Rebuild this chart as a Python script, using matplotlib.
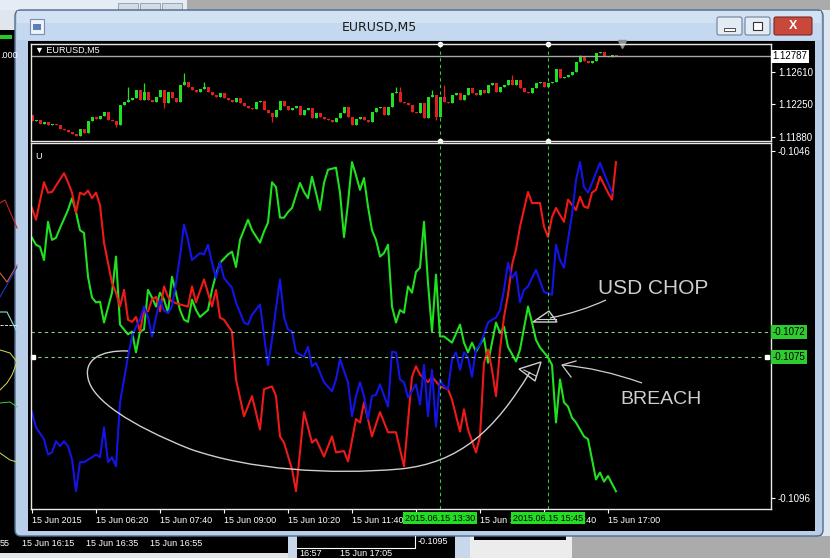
import numpy as np
import matplotlib.pyplot as plt
from matplotlib.patches import Rectangle, FancyBboxPatch, PathPatch, Polygon
from matplotlib.path import Path

plt.rcParams["font.family"] = ["Liberation Sans", "DejaVu Sans"]
plt.rcParams["axes.unicode_minus"] = False

# ---------------- data ----------------
# EURUSD M5, bar 0 = 15 Jun 2015 05:00
tick_bars = [0, 16, 32, 48, 64, 80, 96, 112, 128, 144]
tick_labels = ["15 Jun 2015", "15 Jun 06:20", "15 Jun 07:40", "15 Jun 09:00",
               "15 Jun 10:20", "15 Jun 11:40", "15 Jun 13:00", "15 Jun 14:20",
               "15 Jun 15:40", "15 Jun 17:00"]

first_open = 1.12127
closes = [
    1.12060, 1.12071, 1.12026, 1.12049, 1.12015, 1.12026, 1.12015, 1.11970, 1.11959, 1.11936,
    1.11914, 1.11891, 1.11970, 1.11925, 1.12060, 1.12105, 1.12082, 1.12116, 1.12161, 1.12071,
    1.12060, 1.12015, 1.12239, 1.12273, 1.12296, 1.12318, 1.12408, 1.12296, 1.12385, 1.12296,
    1.12273, 1.12329, 1.12408, 1.12262, 1.12385, 1.12318, 1.12273, 1.12464, 1.12498, 1.12442,
    1.12408, 1.12385, 1.12419, 1.12442, 1.12385, 1.12352, 1.12329, 1.12374, 1.12318, 1.12296,
    1.12273, 1.12318, 1.12262, 1.12228, 1.12206, 1.12194, 1.12273, 1.12284, 1.12183, 1.12150,
    1.12105, 1.12183, 1.12284, 1.12228, 1.12183, 1.12206, 1.12228, 1.12127, 1.12183, 1.12206,
    1.12093, 1.12150, 1.12105, 1.12082, 1.12071, 1.12049, 1.12093, 1.12150, 1.12217, 1.12105,
    1.12015, 1.12082, 1.12105, 1.12071, 1.12049, 1.12161, 1.12206, 1.12217, 1.12127, 1.12217,
    1.12374, 1.12385, 1.12273, 1.12262, 1.12239, 1.12161, 1.12150, 1.12262, 1.12093, 1.12329,
    1.12352, 1.12105, 1.12329, 1.12273, 1.12262, 1.12352, 1.12374, 1.12296, 1.12352, 1.12430,
    1.12374, 1.12352, 1.12408, 1.12374, 1.12464, 1.12486, 1.12385, 1.12442, 1.12464, 1.12520,
    1.12464, 1.12520, 1.12430, 1.12385, 1.12374, 1.12430, 1.12486, 1.12498, 1.12442, 1.12486,
    1.12498, 1.12644, 1.12543, 1.12554, 1.12576, 1.12610, 1.12722, 1.12778, 1.12734, 1.12711,
    1.12734, 1.12823, 1.12835, 1.12790, 1.12778, 1.12801, 1.12787,
]
upper_wicks = [(24, 1.12442), (28, 1.12486), (38, 1.12599), (43, 1.12498), (91, 1.12442),
               (92, 1.12442), (100, 1.12408), (103, 1.12464), (120, 1.12576), (137, 1.12801)]
lower_wicks = [(21, 1.11992), (33, 1.12206), (60, 1.12049), (101, 1.12071)]
bid = 1.12787
price_ticks = [1.12610, 1.12250, 1.11880]

# indicator "U" (bar, value)
red_line = [
    (0, -0.10542), (1, -0.10559), (3, -0.10505), (4, -0.10520), (5, -0.10519), (8, -0.10492),
    (9, -0.10505), (10, -0.10520), (11, -0.10549), (12, -0.10520), (13, -0.10523), (14, -0.10517),
    (15, -0.10528), (16, -0.10520), (17, -0.10538), (18, -0.10592), (20, -0.10650), (21, -0.10664),
    (22, -0.10684), (23, -0.10660), (24, -0.10703), (25, -0.10706), (26, -0.10699), (27, -0.10720),
    (28, -0.10689), (29, -0.10691), (30, -0.10674), (31, -0.10670), (32, -0.10691), (33, -0.10655),
    (34, -0.10670), (35, -0.10677), (37, -0.10681), (39, -0.10684), (40, -0.10655), (41, -0.10678),
    (43, -0.10645), (45, -0.10684), (46, -0.10660), (47, -0.10700), (48, -0.10703), (50, -0.10720),
    (51, -0.10789), (53, -0.10842), (55, -0.10813), (57, -0.10861), (58, -0.10803), (60, -0.10799),
    (61, -0.10813), (62, -0.10871), (63, -0.10880), (65, -0.10918), (66, -0.10950), (68, -0.10836),
    (70, -0.10880), (71, -0.10875), (73, -0.10900), (75, -0.10871), (76, -0.10894), (78, -0.10892),
    (79, -0.10907), (81, -0.10846), (82, -0.10851), (83, -0.10822), (85, -0.10871), (87, -0.10836),
    (89, -0.10865), (91, -0.10865), (93, -0.10914), (95, -0.10785), (96, -0.10770), (97, -0.10782),
    (99, -0.10793), (100, -0.10785), (102, -0.10799), (104, -0.10803), (105, -0.10818), (107, -0.10864),
    (108, -0.10832), (109, -0.10861), (111, -0.10894), (112, -0.10871), (113, -0.10765), (114, -0.10746),
    (115, -0.10775), (116, -0.10813), (117, -0.10746), (118, -0.10699), (119, -0.10667), (120, -0.10624),
    (121, -0.10602), (122, -0.10569), (124, -0.10519), (125, -0.10535), (127, -0.10535), (128, -0.10569),
    (129, -0.10584), (130, -0.10555), (131, -0.10542), (133, -0.10562), (134, -0.10530), (136, -0.10545),
    (137, -0.10526), (138, -0.10540), (139, -0.10542), (140, -0.10520), (141, -0.10516), (142, -0.10497),
    (144, -0.10520), (145, -0.10530), (146, -0.10476),
]
green_line = [
    (0, -0.10585), (1, -0.10595), (2, -0.10598), (3, -0.10617), (4, -0.10562), (5, -0.10588),
    (6, -0.10585), (7, -0.10571), (9, -0.10545), (10, -0.10528), (11, -0.10548), (12, -0.10574),
    (13, -0.10578), (14, -0.10641), (15, -0.10671), (16, -0.10678), (17, -0.10677), (18, -0.10707),
    (20, -0.10664), (21, -0.10612), (22, -0.10710), (24, -0.10724), (25, -0.10720), (26, -0.10750),
    (27, -0.10720), (28, -0.10717), (29, -0.10660), (30, -0.10671), (31, -0.10684), (32, -0.10664),
    (33, -0.10674), (34, -0.10693), (35, -0.10641), (37, -0.10689), (38, -0.10703), (39, -0.10706),
    (40, -0.10674), (41, -0.10689), (42, -0.10699), (44, -0.10689), (45, -0.10660), (46, -0.10638),
    (47, -0.10621), (49, -0.10609), (50, -0.10605), (51, -0.10627), (52, -0.10588), (54, -0.10559),
    (55, -0.10574), (57, -0.10592), (58, -0.10576), (59, -0.10563), (60, -0.10505), (61, -0.10512),
    (62, -0.10556), (63, -0.10556), (64, -0.10548), (65, -0.10542), (67, -0.10506), (68, -0.10519),
    (69, -0.10528), (70, -0.10497), (71, -0.10520), (72, -0.10545), (73, -0.10506), (74, -0.10487),
    (76, -0.10484), (77, -0.10520), (78, -0.10584), (79, -0.10535), (80, -0.10476), (81, -0.10495),
    (82, -0.10516), (83, -0.10499), (84, -0.10540), (85, -0.10574), (86, -0.10588), (87, -0.10612),
    (88, -0.10607), (89, -0.10595), (90, -0.10684), (91, -0.10707), (92, -0.10689), (93, -0.10693),
    (94, -0.10655), (95, -0.10664), (96, -0.10634), (97, -0.10628), (98, -0.10562), (99, -0.10650),
    (100, -0.10720), (101, -0.10638), (102, -0.10727), (103, -0.10727), (105, -0.10736), (107, -0.10710),
    (108, -0.10736), (109, -0.10750), (110, -0.10736), (111, -0.10749), (113, -0.10729), (114, -0.10765),
    (116, -0.10707), (117, -0.10722), (118, -0.10713), (119, -0.10742), (121, -0.10763), (122, -0.10746),
    (124, -0.10684), (125, -0.10707), (126, -0.10732), (127, -0.10743), (129, -0.10757), (130, -0.10768),
    (131, -0.10851), (132, -0.10789), (133, -0.10822), (134, -0.10828), (135, -0.10844), (136, -0.10851),
    (138, -0.10871), (139, -0.10875), (141, -0.10933), (142, -0.10923), (143, -0.10936), (144, -0.10928),
    (146, -0.10950),
]
blue_line = [
    (0, -0.10836), (1, -0.10858), (3, -0.10875), (4, -0.10897), (5, -0.10894), (6, -0.10878),
    (7, -0.10885), (8, -0.10878), (9, -0.10885), (10, -0.10904), (11, -0.10950), (12, -0.10908),
    (13, -0.10908), (15, -0.10901), (16, -0.10897), (17, -0.10901), (18, -0.10858), (19, -0.10908),
    (20, -0.10901), (21, -0.10914), (22, -0.10822), (23, -0.10789), (24, -0.10756), (25, -0.10727),
    (26, -0.10713), (27, -0.10703), (28, -0.10684), (29, -0.10699), (30, -0.10727), (31, -0.10699),
    (32, -0.10674), (33, -0.10690), (34, -0.10693), (35, -0.10684), (36, -0.10650), (37, -0.10612),
    (38, -0.10566), (39, -0.10588), (40, -0.10617), (42, -0.10607), (43, -0.10609), (44, -0.10595),
    (45, -0.10621), (46, -0.10643), (47, -0.10620), (48, -0.10643), (50, -0.10657), (51, -0.10678),
    (53, -0.10707), (54, -0.10710), (55, -0.10696), (57, -0.10681), (58, -0.10724), (59, -0.10768),
    (60, -0.10732), (61, -0.10686), (62, -0.10645), (63, -0.10699), (64, -0.10717), (65, -0.10720),
    (66, -0.10750), (68, -0.10756), (69, -0.10742), (70, -0.10770), (71, -0.10765), (73, -0.10793),
    (75, -0.10806), (76, -0.10789), (77, -0.10760), (79, -0.10793), (80, -0.10842), (81, -0.10813),
    (82, -0.10793), (83, -0.10813), (84, -0.10846), (85, -0.10813), (86, -0.10811), (87, -0.10796),
    (89, -0.10828), (90, -0.10749), (91, -0.10750), (92, -0.10789), (93, -0.10793), (94, -0.10815),
    (96, -0.10796), (97, -0.10825), (98, -0.10768), (99, -0.10842), (100, -0.10775), (101, -0.10857),
    (102, -0.10789), (103, -0.10799), (104, -0.10803), (105, -0.10760), (106, -0.10750), (107, -0.10775),
    (108, -0.10750), (109, -0.10757), (110, -0.10785), (111, -0.10746), (112, -0.10739), (113, -0.10724),
    (114, -0.10707), (115, -0.10703), (116, -0.10700), (117, -0.10689), (118, -0.10660), (119, -0.10621),
    (120, -0.10643), (121, -0.10634), (122, -0.10678), (123, -0.10660), (124, -0.10655), (126, -0.10631),
    (128, -0.10663), (130, -0.10667), (131, -0.10595), (132, -0.10617), (133, -0.10628), (134, -0.10588),
    (135, -0.10552), (136, -0.10502), (137, -0.10476), (138, -0.10512), (139, -0.10520), (140, -0.10506),
    (142, -0.10477), (143, -0.10492), (144, -0.10506), (145, -0.10520),
]
ind_ticks = [-0.1046, -0.1096]
levels = [-0.10720, -0.10757]
level_labels = ["-0.1072", "-0.1075"]
vline_bars = [102, 129]
vline_labels = ["2015.06.15 13:30", "2015.06.15 15:45"]

# ---------------- layout helpers (pixels) ----------------
W, H = 830, 558


def frac(x0, y0, x1, y1):
    return [x0 / W, 1 - y1 / H, (x1 - x0) / W, (y1 - y0) / H]


fig = plt.figure(figsize=(W / 100, H / 100), dpi=100, facecolor="#ababab")

# desktop / window chrome
bg = fig.add_axes([0, 0, 1, 1], zorder=0)
bg.set_xlim(0, W)
bg.set_ylim(H, 0)
bg.axis("off")
bg.add_patch(Rectangle((0, 0), 187, 10, fc="#e6ecf3", ec="none"))
for bx in (118, 140, 162):
    bg.add_patch(Rectangle((bx, 3), 20, 8, fc="#d3dbe5", ec="#8a9bb0", lw=0.6))
bg.add_patch(Rectangle((0, 10), 16, 22, fc="#dfe6ee", ec="none"))
bg.add_patch(Rectangle((0, 30), 18, 506, fc="black", ec="none"))
bg.add_patch(Rectangle((0, 35), 12, 4, fc="#22cc22", ec="none"))
bg.text(18, 56, ".000", color="white", fontsize=6.5, ha="right", va="center")
bg.plot([0, 5, 17], [203, 200, 228], color="#cc2222", lw=0.8)
bg.plot([0, 7, 17], [273, 282, 265], color="#cc6633", lw=0.8)
bg.plot([0, 17], [297, 267], color="#2233cc", lw=0.8)
bg.plot([0, 7, 17], [312, 312, 332], color="#88dddd", lw=0.8)
bg.plot([0, 17], [325, 325], color="white", ls="--", lw=0.6)
bg.plot([0, 10, 17, 12, 7, 0], [350, 353, 362, 375, 383, 390], color="#dddd55", lw=0.7)
bg.plot([0, 10, 17], [403, 402, 407], color="#44cc44", lw=0.7)
bg.plot([0, 10, 17], [453, 460, 462], color="#dddd55", lw=0.7)
bg.add_patch(Rectangle((822, 10), 8, 526, fc="#dfe7f0", ec="none"))

# bottom strip of the windows behind
bg.add_patch(Rectangle((0, 536), 290, 17, fc="black", ec="none"))
bg.add_patch(Rectangle((0, 553), 297, 5, fc="#dfe6ee", ec="none"))
bg.add_patch(Rectangle((288, 536), 9, 22, fc="#c8d8ea", ec="none"))
bg.add_patch(Rectangle((297, 536), 158, 22, fc="black", ec="none"))
bg.plot([297, 415, 415], [548, 548, 536], color="white", lw=0.8)
bg.add_patch(Rectangle((455, 536), 15, 22, fc="#c8d8ea", ec="none"))
bg.add_patch(Rectangle((470, 536), 102, 22, fc="#ececec", ec="none"))
bg.add_patch(Rectangle((474, 536), 92, 4, fc="black", ec="none"))
for tx, s in [(0, "55"), (22, "15 Jun 16:15"), (86, "15 Jun 16:35"), (150, "15 Jun 16:55")]:
    bg.text(tx, 543, s, color="white", fontsize=6.5, va="center")
bg.text(418, 541, "-0.1095", color="white", fontsize=6.5, va="center")
bg.text(299, 553, "16:57", color="white", fontsize=6.5, va="center")
bg.text(340, 553, "15 Jun 17:05", color="white", fontsize=6.5, va="center")

# main window frame
bg.add_patch(FancyBboxPatch((15, 10), 808, 526, boxstyle="round,pad=0,rounding_size=6",
                            fc="#b9cfe9", ec="#4f6b8c", lw=1))
bg.add_patch(Rectangle((17, 11), 804, 12, fc="#d3e2f3", ec="none"))
bg.add_patch(Rectangle((17, 23), 804, 17, fc="#c4d8ef", ec="none"))
bg.add_patch(Rectangle((30, 19), 14, 15, fc="#eef3f9", ec="#7a8fb0", lw=0.8))
bg.add_patch(Rectangle((33, 24), 8, 6, fc="#5b7fb8", ec="none"))
bg.text(379, 27, "EURUSD,M5", fontsize=9, color="#1a1a1a", ha="center", va="center",
        family="DejaVu Sans")
bg.add_patch(FancyBboxPatch((717, 17), 25, 18, boxstyle="round,pad=0,rounding_size=2",
                            fc="#e3ebf5", ec="#6e819a", lw=0.8))
bg.add_patch(Rectangle((724, 28), 11, 3, fc="white", ec="#333333", lw=0.6))
bg.add_patch(FancyBboxPatch((745, 17), 25, 18, boxstyle="round,pad=0,rounding_size=2",
                            fc="#e3ebf5", ec="#6e819a", lw=0.8))
bg.add_patch(Rectangle((753, 22), 9, 8, fc="white", ec="#333333", lw=0.8))
bg.add_patch(FancyBboxPatch((774, 17), 38, 18, boxstyle="round,pad=0,rounding_size=2",
                            fc="#c8483c", ec="#7a2a22", lw=0.8))
bg.text(793, 26, "X", fontsize=9, color="white", fontweight="bold", ha="center", va="center")
bg.add_patch(Rectangle((28, 41), 787, 490, fc="black", ec="none"))

# ---------------- price panel ----------------
ax1 = fig.add_axes(frac(31, 44, 771, 141), zorder=2, facecolor="black")
ax2 = fig.add_axes(frac(31, 143, 771, 509), zorder=2, facecolor="black")
for ax in (ax1, ax2):
    ax.set_xlim(-0.25, 184.75)
    for sp in ax.spines.values():
        sp.set_color("#e8e8e8")
        sp.set_linewidth(1)
    ax.yaxis.tick_right()
    ax.tick_params(axis="y", colors="white", length=3, width=0.8, pad=2, labelsize=7)

bull, bear = "#22e022", "#e02020"
c = np.array(closes)
o = np.r_[first_open, c[:-1]]
bars = np.arange(len(c))
hi = np.maximum(o, c)
lo = np.minimum(o, c)
for b, v in upper_wicks:
    hi[b] = v
for b, v in lower_wicks:
    lo[b] = v
cols = np.where(c >= o, bull, bear)
ax1.vlines(bars, lo, hi, colors=cols, lw=0.9)
ax1.bar(bars, np.maximum(np.abs(c - o), 0.00004), bottom=np.minimum(o, c),
        width=0.75, color=cols, linewidth=0, antialiased=False)
ax1.axhline(bid, color="#a8a8a8", lw=1)
ax1.set_ylim(1.11835, 1.12924)
ax1.set_xticks([])
ax1.set_yticks(price_ticks)
ax1.set_yticklabels([f"{v:.5f}" for v in price_ticks])
ax1.text(1.002, bid, f"{bid:.5f}", transform=ax1.get_yaxis_transform(), fontsize=7,
         color="black", va="center", ha="left", clip_on=False,
         bbox=dict(boxstyle="square,pad=0.15", fc="white", ec="none"))
ax1.text(0.005, 0.94, "\u25bc EURUSD,M5", transform=ax1.transAxes, color="white",
         fontsize=6.5, va="center", ha="left")
ax1.plot([0.7986], [1.0], marker="v", color="#909090", ms=6, transform=ax1.transAxes,
         clip_on=False)

# ---------------- indicator panel ----------------
for line, col in ((green_line, "#20e020"), (red_line, "#ee1a1a"), (blue_line, "#1414e6")):
    xb, yv = zip(*line)
    ax2.plot(xb, yv, color=col, lw=1.5, solid_joinstyle="round")

ax2.set_ylim(-0.109755, -0.104485)
ax2.set_yticks(ind_ticks)
ax2.set_yticklabels([f"{v:.4f}" for v in ind_ticks])
ax2.set_xticks(tick_bars)
ax2.set_xticklabels(tick_labels, ha="left")
ax2.tick_params(axis="x", colors="white", length=3, width=0.8, pad=2, labelsize=6.5)
ax2.text(0.006, 0.975, "U", transform=ax2.transAxes, color="white", fontsize=6.5,
         va="top", ha="left")

for lev, lab in zip(levels, level_labels):
    ax2.axhline(lev, color="#7fcf7f", lw=0.8, ls=(0, (3, 3)))
    ax2.text(1.002, lev, lab, transform=ax2.get_yaxis_transform(), fontsize=7,
             color="black", va="center", ha="left", clip_on=False,
             bbox=dict(boxstyle="square,pad=0.2", fc="#2ecc2e", ec="none"))
ax2.plot([0.003, 0.995], [levels[1]] * 2, ls="none", marker="s", ms=2.5, color="white",
         transform=ax2.get_yaxis_transform(), clip_on=False)

for b, lab in zip(vline_bars, vline_labels):
    for ax in (ax1, ax2):
        ax.axvline(b, color="#33cc33", lw=0.8, ls=(0, (3, 3)))
    ax1.plot([b, b], [0.0, 1.0], ls="none", marker="o", ms=3, color="white",
             transform=ax1.get_xaxis_transform(), clip_on=False)
    ax2.text(b, -0.025, lab, transform=ax2.get_xaxis_transform(), ha="center", va="center",
             fontsize=6.5, color="black", zorder=10, clip_on=False,
             bbox=dict(boxstyle="square,pad=0.2", fc="#22dd22", ec="none"))

# ---------------- hand-drawn notes ----------------
ov = fig.add_axes([0, 0, 1, 1], zorder=5)
ov.set_xlim(0, W)
ov.set_ylim(H, 0)
ov.axis("off")
ov.patch.set_alpha(0)
pen = "#cfcfcf"

loop = [(128, 351), (100, 350), (84, 360), (88, 378), (92, 400), (130, 425), (190, 449),
        (250, 470), (330, 475), (400, 469), (460, 463), (495, 430), (530, 372)]
ov.add_patch(PathPatch(Path(loop, [Path.MOVETO] + [Path.CURVE4] * 12), fill=False, ec=pen, lw=1))
ov.add_patch(Polygon([(519, 369), (541, 362), (535, 381)], closed=True, fill=False, ec=pen, lw=1))
ov.plot([524, 536], [370, 376], color=pen, lw=0.8)

ov.text(598, 288, "USD CHOP", color=pen, fontsize=15, ha="left", va="center")
ov.add_patch(PathPatch(Path([(606, 300), (580, 312), (550, 318)],
                            [Path.MOVETO, Path.CURVE3, Path.CURVE3]), fill=False, ec=pen, lw=0.9))
ov.add_patch(Polygon([(533, 322), (549, 311), (557, 322)], closed=True, fill=False, ec=pen, lw=1))
ov.plot([538, 556], [319, 319], color=pen, lw=0.8)

ov.text(620, 399, "BREACH", color=pen, fontsize=14, ha="left", va="center")
ov.add_patch(PathPatch(Path([(642, 383), (600, 368), (562, 365)],
                            [Path.MOVETO, Path.CURVE3, Path.CURVE3]), fill=False, ec=pen, lw=0.9))
ov.plot([576, 562, 571], [361, 365, 377], color=pen, lw=0.9)

fig.savefig("out.png", dpi=100, facecolor=fig.get_facecolor())
